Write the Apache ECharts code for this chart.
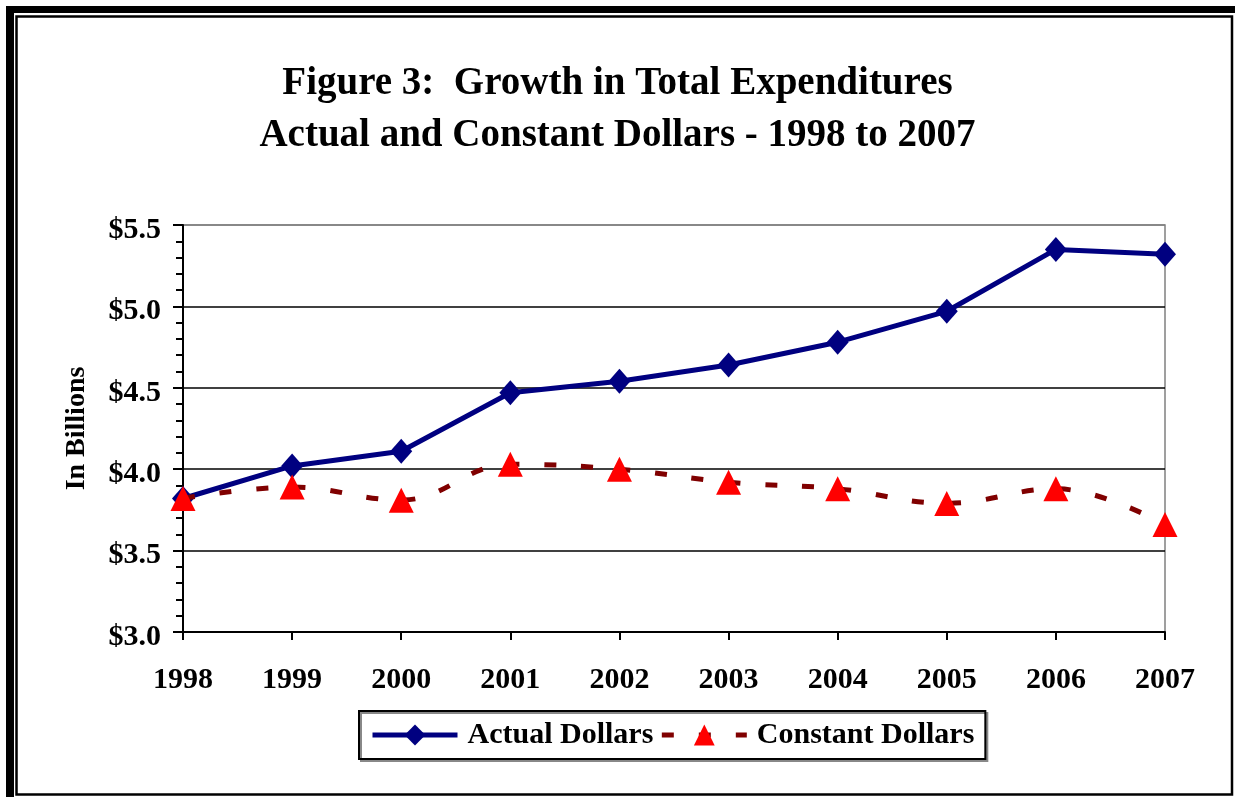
<!DOCTYPE html>
<html>
<head>
<meta charset="utf-8">
<script src="https://cdn.jsdelivr.net/npm/echarts@6/dist/echarts.min.js"></script>
<style>
html,body{margin:0;padding:0;background:#fff;}
#main{width:1235px;height:797px;}
</style>
</head>
<body>
<div id="main"></div>
<script>
const years = ['1998','1999','2000','2001','2002','2003','2004','2005','2006','2007'];
const actualDollars = [3.82, 4.02, 4.11, 4.47, 4.54, 4.64, 4.78, 4.97, 5.35, 5.32];
const constantDollars = [3.82, 3.89, 3.81, 4.03, 4.00, 3.92, 3.88, 3.79, 3.88, 3.66];
const seriesNames = ['Actual Dollars', 'Constant Dollars'];
const titleLines = ['Figure 3:  Growth in Total Expenditures', 'Actual and Constant Dollars - 1998 to 2007'];

const FONT = '"Liberation Serif", "Times New Roman", serif';
const chart = echarts.init(document.getElementById('main'), null, {renderer: 'canvas'});
chart.setOption({
  backgroundColor: '#fff',
  animation: false,
  title: {
    text: titleLines.join('\n'),
    left: 'center',
    top: 53,
    textStyle: {fontFamily: FONT, fontWeight: 'bold', fontSize: 39, lineHeight: 52, color: '#000'}
  },
  graphic: [
    {type: 'rect', shape: {x: 6, y: 6, width: 8, height: 791}, style: {fill: '#000'}, silent: true},
    {type: 'rect', shape: {x: 6, y: 6, width: 1229, height: 7}, style: {fill: '#000'}, silent: true},
    {type: 'rect', shape: {x: 16.5, y: 16.5, width: 1215.5, height: 778}, style: {fill: 'none', stroke: '#000', lineWidth: 2.5}, silent: true}
  ],
  grid: {left: 183, right: 70, top: 225, bottom: 165, show: true, borderColor: '#808080', borderWidth: 1.5},
  legend: {
    left: 359, top: 711,
    data: seriesNames,
    padding: [9, 11, 9, 11],
    itemWidth: 85, itemHeight: 26, itemGap: 6,
    backgroundColor: '#fff',
    borderColor: '#000', borderWidth: 2,
    shadowColor: '#888', shadowOffsetX: 2, shadowOffsetY: 2, shadowBlur: 0,
    lineStyle: {width: 5},
    textStyle: {fontFamily: FONT, fontWeight: 'bold', fontSize: 30, color: '#000', padding: [0, 0, 0, 5]}
  },
  xAxis: {
    type: 'category', data: years, boundaryGap: false,
    axisLine: {lineStyle: {color: '#000', width: 2}},
    axisTick: {show: true, alignWithLabel: true, length: 8, lineStyle: {color: '#000', width: 2}},
    axisLabel: {fontFamily: FONT, fontWeight: 'bold', fontSize: 30, color: '#000', margin: 33},
    splitLine: {show: false}
  },
  yAxis: {
    type: 'value', min: 3, max: 5.5, interval: 0.5,
    name: 'In Billions', nameLocation: 'middle', nameGap: 92, nameRotate: 90,
    nameTextStyle: {fontFamily: FONT, fontWeight: 'bold', fontSize: 28, color: '#000'},
    axisLine: {show: true, lineStyle: {color: '#000', width: 2}},
    axisTick: {show: true, length: 10, lineStyle: {color: '#000', width: 2}},
    minorTick: {show: true, splitNumber: 5, length: 7, lineStyle: {color: '#000', width: 2}},
    axisLabel: {fontFamily: FONT, fontWeight: 'bold', fontSize: 30, color: '#000', margin: 22,
      verticalAlign: 'top', lineHeight: 10,
      formatter: v => '$' + v.toFixed(1)},
    splitLine: {show: true, lineStyle: {color: ['#000','#000','#000','#000','#000','#808080'], width: 1.5}}
  },
  series: [
    {
      name: seriesNames[0], type: 'line', data: actualDollars,
      symbol: 'diamond', symbolSize: [22, 25],
      lineStyle: {color: '#000080', width: 5},
      itemStyle: {color: '#000080'},
      z: 2
    },
    {
      name: seriesNames[1], type: 'line', data: constantDollars, smooth: 0.4,
      symbol: 'triangle', symbolSize: [25, 25],
      lineStyle: {color: '#800000', width: 5, type: [12, 25]},
      itemStyle: {color: '#FF0000'},
      z: 3
    }
  ]
});
</script>
</body>
</html>
